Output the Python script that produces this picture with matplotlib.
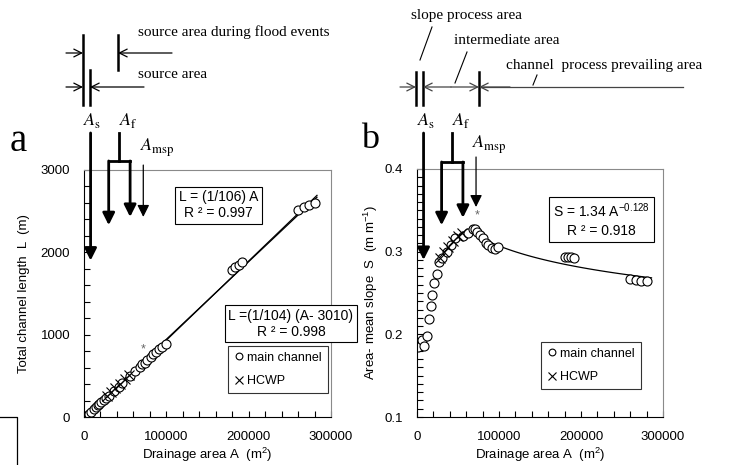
import matplotlib
matplotlib.use("Agg")
import matplotlib.pyplot as plt
from matplotlib.ticker import MultipleLocator
import numpy as np

plt.rcParams["font.family"] = ["Liberation Sans", "DejaVu Sans"]
plt.rcParams["mathtext.default"] = "regular"

# ----- data
main_area = [1200, 6000, 8500, 12000, 14600, 17000, 18800, 21000, 23800, 27000,
             30000, 36000, 42000, 46500, 56000, 62000, 68000, 71000, 73500,
             77000, 81000, 84000, 87000, 91000, 95000, 99000,
             180000, 184000, 188000, 192000,
             260000, 267000, 273000, 280000]
main_length = [10, 40, 65, 95, 120, 140, 160, 180, 205, 235,
               260, 315, 370, 410, 500, 555, 610, 640, 660,
               695, 730, 760, 785, 820, 855, 890,
               1790, 1820, 1850, 1880,
               2520, 2550, 2570, 2600]
main_slope = [0.185, 0.193, 0.186, 0.198, 0.218, 0.234, 0.248, 0.262, 0.273, 0.287,
              0.292, 0.300, 0.308, 0.316, 0.319, 0.322, 0.327, 0.327, 0.324,
              0.320, 0.316, 0.310, 0.308, 0.305, 0.303, 0.306,
              0.294, 0.293, 0.293, 0.292,
              0.267, 0.266, 0.265, 0.265]

hcwp_area = [28000, 33000, 38000, 44000, 50000, 55000]
hcwp_length = [255, 300, 350, 405, 460, 510]
hcwp_slope = [0.292, 0.300, 0.306, 0.313, 0.319, 0.322]

star_area = [72000, 73000]
star_length = 826
star_slope = 0.344

# thresholds (A_s, A_f range, A_msp)
a_s = 8000
a_f = [30000, 56000]
a_msp = 72000

# fit equations shown in the boxes
fit_area = np.linspace(0, 283000, 50)
fit_area2 = np.linspace(3010, 283000, 50)
fit_area_s = np.linspace(68000, 286000, 50)

fig = plt.figure(figsize=(7.43, 4.65), dpi=100)
ax1 = fig.add_axes([84 / 743, 1 - 417 / 465, 247 / 743, 247 / 465])
ax2 = fig.add_axes([417 / 743, 1 - 417 / 465, 246 / 743, 248 / 465])


def style_axes(ax):
    for s in ["top", "right"]:
        ax.spines[s].set_color("#8a8a8a")
    for s in ["left", "bottom"]:
        ax.spines[s].set_color("black")
    ax.set_xlim(0, 300000)
    ax.xaxis.set_major_locator(MultipleLocator(100000))
    ax.xaxis.set_minor_locator(MultipleLocator(20000))
    ax.tick_params(which="both", direction="in", length=4, width=0.8,
                   labelsize=9.5, pad=10, top=False, right=False)
    ax.set_xlabel("Drainage area A  (m$^2$)", fontsize=9.5)
    ax.xaxis.set_label_coords(0.5, -0.115)
    ax.xaxis.label.set_va("top")


# ----- panel a
style_axes(ax1)
ax1.set_ylim(0, 3000)
ax1.yaxis.set_major_locator(MultipleLocator(1000))
ax1.yaxis.set_minor_locator(MultipleLocator(200))
ax1.set_ylabel("Total channel length  L  (m)", fontsize=9.5)
ax1.yaxis.set_label_coords(-0.22, 0.5)

ax1.plot(fit_area, fit_area / 106, color="black", lw=0.9)
ax1.plot(fit_area2, (fit_area2 - 3010) / 104, color="black", lw=0.9)
ax1.plot(main_area, main_length, "o", mfc="white", mec="black", ms=6.5, mew=0.8,
         label="main channel")
ax1.plot(hcwp_area, hcwp_length, "x", color="black", ms=7, mew=0.8, label="HCWP")
ax1.text(star_area[0], star_length, "*", color="#666666", fontsize=9,
         ha="center", va="center")

ax1.text(0.545, 0.858, "L = (1/106) A\nR ² = 0.997", transform=ax1.transAxes,
         ha="center", va="center", fontsize=10, linespacing=1.2,
         bbox=dict(boxstyle="square,pad=0.25", fc="white", ec="black", lw=0.8))
ax1.text(0.838, 0.377, "L =(1/104) (A- 3010)\nR ² = 0.998", transform=ax1.transAxes,
         ha="center", va="center", fontsize=10, linespacing=1.2, clip_on=False,
         bbox=dict(boxstyle="square,pad=0.25", fc="white", ec="black", lw=0.8))
leg1 = ax1.legend(loc="upper left", bbox_to_anchor=(0.583, 0.287), fontsize=9,
                  frameon=True, fancybox=False, handlelength=0.8, handletextpad=0.3,
                  labelspacing=0.9, borderpad=0.45, borderaxespad=0, numpoints=1,
                  markerscale=0.75)
leg1.get_frame().set_edgecolor("black")
leg1.get_frame().set_linewidth(0.8)

# ----- panel b
style_axes(ax2)
ax2.set_ylim(0.1, 0.4)
ax2.yaxis.set_major_locator(MultipleLocator(0.1))
ax2.yaxis.set_minor_locator(MultipleLocator(0.01))
ax2.set_ylabel("Area- mean slope  S  (m m$^{-1}$)", fontsize=9.5)
ax2.yaxis.set_label_coords(-0.15, 0.5)

ax2.plot(fit_area_s, 1.34 * fit_area_s ** -0.128, color="black", lw=0.9)
ax2.plot(main_area, main_slope, "o", mfc="white", mec="black", ms=6.5, mew=0.8,
         label="main channel")
ax2.plot(hcwp_area, hcwp_slope, "x", color="black", ms=7, mew=0.8, label="HCWP")
ax2.text(star_area[1], star_slope, "*", color="#666666", fontsize=9,
         ha="center", va="center")

ax2.text(0.75, 0.796, "S = 1.34 A$^{-0.128}$\nR ² = 0.918", transform=ax2.transAxes,
         ha="center", va="center", fontsize=10, linespacing=1.3,
         bbox=dict(boxstyle="square,pad=0.3", fc="white", ec="black", lw=0.8))
leg2 = ax2.legend(loc="upper left", bbox_to_anchor=(0.504, 0.302), fontsize=9,
                  frameon=True, fancybox=False, handlelength=0.8, handletextpad=0.3,
                  labelspacing=0.9, borderpad=0.45, borderaxespad=0, numpoints=1,
                  markerscale=0.75)
leg2.get_frame().set_edgecolor("black")
leg2.get_frame().set_linewidth(0.8)


# ----- threshold arrows (data x, above-axes start)
def thresholds(ax, top, bracket, msp_top, tip_s, tip_f, tip_msp):
    kw = dict(annotation_clip=False)
    thick = dict(arrowstyle="-|>", color="black", lw=2, mutation_scale=18,
                 shrinkA=0, shrinkB=0)
    thin = dict(arrowstyle="-|>", color="black", lw=0.9, mutation_scale=18,
                shrinkA=0, shrinkB=0)
    ax.annotate("", xy=(a_s, tip_s), xytext=(a_s, top), arrowprops=thick, **kw)
    ax.annotate("", xy=(a_f[0], tip_f[0]), xytext=(a_f[0], bracket),
                arrowprops=thick, **kw)
    ax.annotate("", xy=(a_f[1], tip_f[1]), xytext=(a_f[1], bracket),
                arrowprops=thick, **kw)
    ax.plot(a_f, [bracket, bracket], color="black", lw=2, clip_on=False,
            solid_capstyle="projecting")
    mid = sum(a_f) / 2
    ax.plot([mid, mid], [bracket, top], color="black", lw=2, clip_on=False)
    ax.annotate("", xy=(a_msp, tip_msp), xytext=(a_msp, msp_top),
                arrowprops=thin, **kw)


thresholds(ax1, 3450, 3110, 3060, 1900, [2330, 2430], 2430)
thresholds(ax2, 0.4435, 0.4085, 0.4145, 0.29, [0.332, 0.341], 0.354)

# ----- overlay in figure pixels for the top schematics
ov = fig.add_axes([0, 0, 1, 1], zorder=5)
ov.set_xlim(0, 743)
ov.set_ylim(465, 0)
ov.axis("off")
ov.patch.set_alpha(0)

serif = ["Liberation Serif", "DejaVu Serif"]
arrow_open = dict(arrowstyle="->", color="black", lw=0.9, mutation_scale=14,
                  shrinkA=0, shrinkB=0)
arrow_gray = dict(arrowstyle="->", color="#444444", lw=0.9, mutation_scale=14,
                  shrinkA=0, shrinkB=0)

# left schematic
ov.plot([83, 83], [35, 105], color="black", lw=1.8)
ov.plot([90, 90], [70, 105], color="black", lw=1.8)
ov.plot([118, 118], [35, 70], color="black", lw=1.8)
ov.annotate("", xy=(83, 53), xytext=(66, 53), arrowprops=arrow_open)
ov.annotate("", xy=(118, 53), xytext=(172, 53), arrowprops=arrow_open)
ov.annotate("", xy=(83, 87), xytext=(66, 87), arrowprops=arrow_open)
ov.annotate("", xy=(90, 87), xytext=(144, 87), arrowprops=arrow_open)
ov.text(138, 32, "source area during flood events", family=serif, fontsize=11,
        va="center", ha="left")
ov.text(138, 75, "source area", family=serif, fontsize=11, va="center", ha="left")

# right schematic
ov.plot([479, 683], [87, 87], color="#444444", lw=0.9)
for xv in [416, 423, 479]:
    ov.plot([xv, xv], [72, 105], color="black", lw=1.8)
ov.annotate("", xy=(416, 87), xytext=(400, 87), arrowprops=arrow_gray)
ov.annotate("", xy=(423, 87), xytext=(451, 87), arrowprops=arrow_gray)
ov.annotate("", xy=(479, 87), xytext=(451, 87), arrowprops=arrow_gray)
ov.annotate("", xy=(479, 87), xytext=(510, 87), arrowprops=arrow_gray)
ov.plot([432, 420], [27, 60], color="black", lw=0.8)
ov.plot([467, 455], [52, 83], color="black", lw=0.8)
ov.plot([537, 533], [75, 85], color="black", lw=0.8)
ov.text(411, 15, "slope process area", family=serif, fontsize=11, va="center")
ov.text(454, 40, "intermediate area", family=serif, fontsize=11, va="center")
ov.text(506, 66, "channel  process prevailing area", family=serif, fontsize=11,
        va="center")

# threshold labels
for x0, lab, yv in [(83, r"$\mathit{A}_{\mathrm{s}}$", 120),
                    (119, r"$\mathit{A}_{\mathrm{f}}$", 120),
                    (140, r"$\mathit{A}_{\mathrm{msp}}$", 148),
                    (417, r"$\mathit{A}_{\mathrm{s}}$", 120),
                    (452, r"$\mathit{A}_{\mathrm{f}}$", 120),
                    (472, r"$\mathit{A}_{\mathrm{msp}}$", 145)]:
    ov.text(x0, yv, lab, math_fontfamily="stix", fontsize=13, ha="left",
            va="center")

# panel letters
ov.text(10, 141, "a", family=serif, fontsize=28, va="center", ha="left")
ov.text(361, 139, "b", family=serif, fontsize=26, va="center", ha="left")

# partial frame in the lower-left corner
ov.plot([0, 17, 17], [417, 417, 465], color="black", lw=0.9)

fig.savefig("out.png", dpi=100)
